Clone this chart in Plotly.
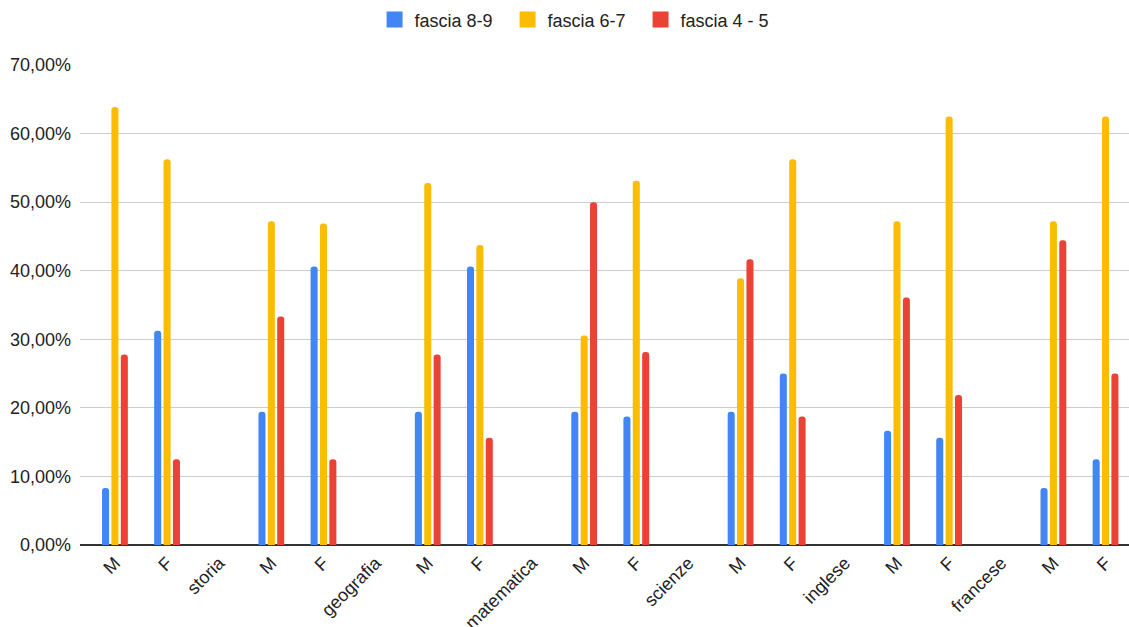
import plotly.graph_objects as go

categories = ["M", "F", "storia", "M", "F", "geografia", "M", "F", "matematica",
              "M", "F", "scienze", "M", "F", "inglese", "M", "F", "francese", "M", "F"]

fascia_8_9 = [8.33, 31.25, None, 19.44, 40.63, None, 19.44, 40.63, None,
              19.44, 18.75, None, 19.44, 25.00, None, 16.67, 15.63, None, 8.33, 12.50]
fascia_6_7 = [63.89, 56.25, None, 47.22, 46.88, None, 52.78, 43.75, None,
              30.56, 53.13, None, 38.89, 56.25, None, 47.22, 62.50, None, 47.22, 62.50]
fascia_4_5 = [27.78, 12.50, None, 33.33, 12.50, None, 27.78, 15.63, None,
              50.00, 28.13, None, 41.67, 18.75, None, 36.11, 21.88, None, 44.44, 25.00]

series_names = ["fascia 8-9", "fascia 6-7", "fascia 4 - 5"]
colors = ["#4285F4", "#FBBC04", "#EA4335"]

x = list(range(len(categories)))

def pct(vals):
    return [None if v is None else v / 100 for v in vals]

fig = go.Figure()
for name, vals, col in zip(series_names, [fascia_8_9, fascia_6_7, fascia_4_5], colors):
    fig.add_trace(go.Bar(x=x, y=pct(vals), name=name, showlegend=False, legendgroup=name,
                         marker=dict(color=col, line=dict(width=0), cornerradius=3)))
# legend entries with larger square symbols
for name, col in zip(series_names, colors):
    fig.add_trace(go.Scatter(x=[None], y=[None], mode="markers", name=name, legendgroup=name,
                             marker=dict(symbol="square", size=16, color=col)))

fig.update_layout(
    width=1129, height=627,
    barmode="group", bargap=0.46, bargroupgap=0.25,
    separators=",.",
    paper_bgcolor="white", plot_bgcolor="white",
    font=dict(family="Arial, Liberation Sans, sans-serif", color="#222222", size=18),
    margin=dict(l=80, r=0, t=65, b=82, autoexpand=False),
    legend=dict(orientation="h", x=0.471, xanchor="center", y=1.094, yanchor="middle",
                font=dict(size=18, color="#222222"), itemwidth=30,
                entrywidth=88, entrywidthmode="pixels"),
    xaxis=dict(tickmode="array", tickvals=x, ticktext=categories, tickangle=-45,
               range=[-0.67, 19.45], showgrid=False, zeroline=False, showline=False,
               ticks="", automargin=False, ticklabelstandoff=3,
               tickfont=dict(size=18, color="#222222")),
    yaxis=dict(range=[0, 0.7], dtick=0.1, tickformat=".2%", showgrid=True,
               gridcolor="#cccccc", gridwidth=1, zeroline=True, zerolinecolor="#333333",
               zerolinewidth=1.5, showline=False, ticks="", ticklen=0,
               ticklabelstandoff=8, automargin=False,
               tickfont=dict(size=18, color="#222222")),
)

fig.write_html("out.html", config={"displayModeBar": False},
               post_script="document.body.style.margin='0';document.body.style.padding='0';")
